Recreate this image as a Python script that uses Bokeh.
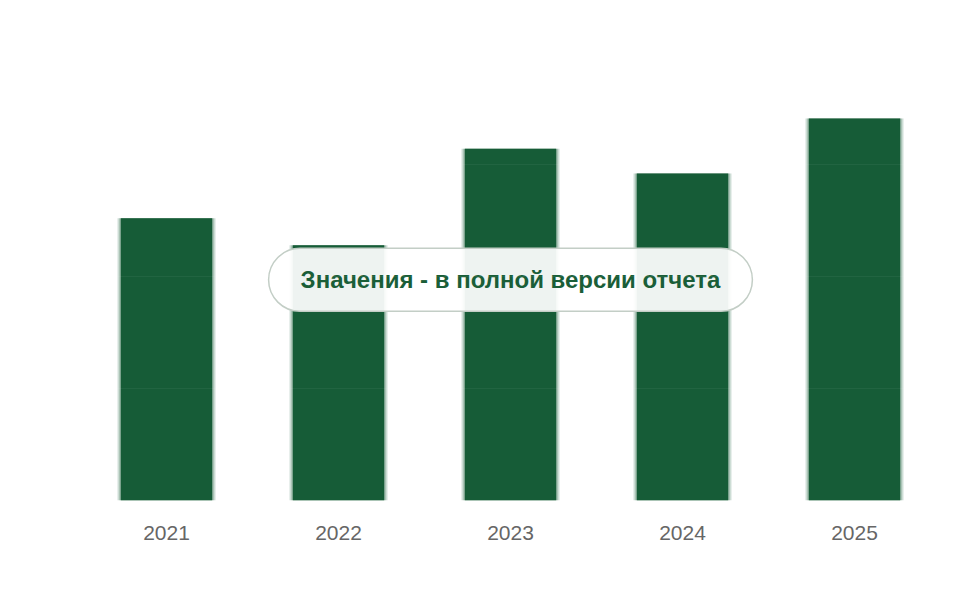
from bokeh.plotting import figure
from bokeh.models import ColumnDataSource, Label, Range1d, FixedTicker
from bokeh.embed import file_html
from bokeh.resources import INLINE

years = ["2021", "2022", "2023", "2024", "2025"]
values = [252, 228, 314, 292, 341]
note = "Значения - в полной версии отчета"

BAR = "#165c37"

src = ColumnDataSource(dict(x=years, top=values))

p = figure(x_range=years, width=944, height=584, output_backend="svg",
           toolbar_location=None, min_border_left=80, min_border_right=4,
           min_border_top=52, min_border_bottom=84)
p.y_range = Range1d(0, 400)
p.outline_line_color = None
p.background_fill_color = "white"
p.border_fill_color = "white"

# soft (blurred-looking) edges
for w, a in [(0.575, 0.10), (0.56, 0.18), (0.545, 0.35)]:
    p.vbar(x="x", top="top", width=w, bottom=0, source=src,
           fill_color=BAR, fill_alpha=a, line_color=None)
p.vbar(x="x", top="top", width=0.53, bottom=0, source=src,
       fill_color=BAR, line_color=None)

p.yaxis.visible = False
p.xgrid.grid_line_color = None
p.ygrid.ticker = FixedTicker(ticks=[100, 200, 300])
p.ygrid.grid_line_color = "white"
p.ygrid.grid_line_alpha = 0.05
p.ygrid.level = "overlay"

ax = p.xaxis[0]
ax.axis_line_color = None
ax.major_tick_line_color = None
ax.minor_tick_line_color = None
ax.major_label_text_color = "#666666"
ax.major_label_text_font = "Liberation Sans"
ax.major_label_text_font_size = "21px"
ax.major_label_standoff = 19

lbl = Label(x=2.5, y=197, x_units="data", y_units="data", text=note,
            text_align="center", text_baseline="middle",
            text_font="Liberation Sans", text_font_style="bold",
            text_font_size="24px", text_color="#1a5e38",
            background_fill_color="white", background_fill_alpha=0.93,
            border_line_color="#c3cec6", border_line_width=1.5,
            border_radius=32,
            padding=dict(top=18, right=32, bottom=18, left=32))
p.add_layout(lbl)

open("out.html", "w").write(file_html(p, INLINE))
